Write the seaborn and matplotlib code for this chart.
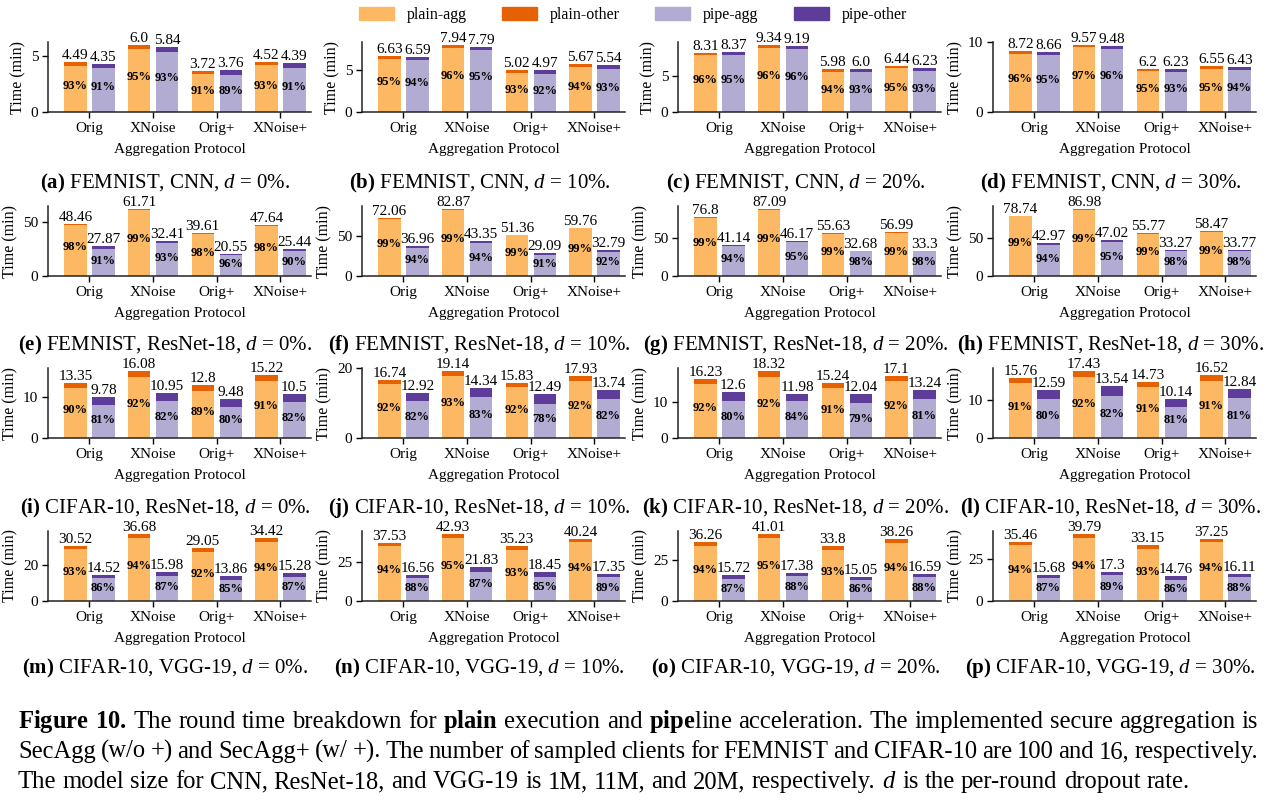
import numpy as np
import pandas as pd
import matplotlib.pyplot as plt
from matplotlib.patches import Patch
import seaborn as sns

# ── DATA ─────────────────────────────────────────────────────
protocols = ['Orig', 'XNoise', 'Orig+', 'XNoise+']
datasets = ['FEMNIST, CNN', 'FEMNIST, ResNet-18', 'CIFAR-10, ResNet-18', 'CIFAR-10, VGG-19']
dropout = ['0%', '10%', '20%', '30%']
letters = 'abcdefghijklmnop'

# round time (min), panels a..p
plain_total = [
    [4.49, 6.0, 3.72, 4.52], [6.63, 7.94, 5.02, 5.67], [8.31, 9.34, 5.98, 6.44], [8.72, 9.57, 6.2, 6.55],
    [48.46, 61.71, 39.61, 47.64], [72.06, 82.87, 51.36, 59.76], [76.8, 87.09, 55.63, 56.99], [78.74, 86.98, 55.77, 58.47],
    [13.35, 16.08, 12.8, 15.22], [16.74, 19.14, 15.83, 17.93], [16.23, 18.32, 15.24, 17.1], [15.76, 17.43, 14.73, 16.52],
    [30.52, 36.68, 29.05, 34.42], [37.53, 42.93, 35.23, 40.24], [36.26, 41.01, 33.8, 38.26], [35.46, 39.79, 33.15, 37.25],
]
pipe_total = [
    [4.35, 5.84, 3.76, 4.39], [6.59, 7.79, 4.97, 5.54], [8.37, 9.19, 6.0, 6.23], [8.66, 9.48, 6.23, 6.43],
    [27.87, 32.41, 20.55, 25.44], [36.96, 43.35, 29.09, 32.79], [41.14, 46.17, 32.68, 33.3], [42.97, 47.02, 33.27, 33.77],
    [9.78, 10.95, 9.48, 10.5], [12.92, 14.34, 12.49, 13.74], [12.6, 11.98, 12.04, 13.24], [12.59, 13.54, 10.14, 12.84],
    [14.52, 15.98, 13.86, 15.28], [16.56, 21.83, 18.45, 17.35], [15.72, 17.38, 15.05, 16.59], [15.68, 17.3, 14.76, 16.11],
]
# share of aggregation time (%)
plain_pct = [
    [93, 95, 91, 93], [95, 96, 93, 94], [96, 96, 94, 95], [96, 97, 95, 95],
    [98, 99, 98, 98], [99, 99, 99, 99], [99, 99, 99, 99], [99, 99, 99, 99],
    [90, 92, 89, 91], [92, 93, 92, 92], [92, 92, 91, 92], [91, 92, 91, 91],
    [93, 94, 92, 94], [94, 95, 93, 94], [94, 95, 93, 94], [94, 94, 93, 94],
]
pipe_pct = [
    [91, 93, 89, 91], [94, 95, 92, 93], [95, 96, 93, 93], [95, 96, 93, 94],
    [91, 93, 96, 90], [94, 94, 91, 92], [94, 95, 98, 98], [94, 95, 98, 98],
    [81, 82, 80, 82], [82, 83, 78, 82], [80, 84, 79, 81], [80, 82, 81, 81],
    [86, 87, 85, 87], [88, 87, 85, 89], [87, 88, 86, 88], [87, 89, 86, 88],
]
yticks = [
    [0, 5], [0, 5], [0, 5], [0, 10],
    [0, 50], [0, 50], [0, 50], [0, 50],
    [0, 10], [0, 20], [0, 10], [0, 10],
    [0, 20], [0, 25], [0, 25], [0, 25],
]

colors_other = {'plain': '#e66101', 'pipe': '#5e3c99'}
colors_agg = {'plain': '#fdb863', 'pipe': '#b2abd2'}

# ── STYLE ────────────────────────────────────────────────────
sns.set_theme(style='ticks', font='serif')
plt.rcParams['font.serif'] = ['Liberation Serif', 'DejaVu Serif']
plt.rcParams['font.family'] = ['Liberation Serif', 'DejaVu Serif']
plt.rcParams['mathtext.fontset'] = 'custom'
plt.rcParams['mathtext.rm'] = 'Liberation Serif'
plt.rcParams['mathtext.it'] = 'Liberation Serif:italic'
plt.rcParams['mathtext.bf'] = 'Liberation Serif:bold'
plt.rcParams['text.color'] = 'black'
plt.rcParams['axes.labelcolor'] = 'black'
plt.rcParams['xtick.color'] = 'black'
plt.rcParams['ytick.color'] = 'black'
serif = ['Liberation Serif', 'DejaVu Serif']

W, H = 1274, 809
fig = plt.figure(figsize=(W / 100, H / 100), dpi=100)

col_left = [48, 362, 678, 993]
row_bottom = [112, 276, 438, 601]
cap_y = [183, 345, 508, 668]
ax_w, ax_h = 263, 70

# ── PANELS ───────────────────────────────────────────────────
for i in range(16):
    r, c = divmod(i, 4)
    ax = fig.add_axes([col_left[c] / W, 1 - row_bottom[r] / H, ax_w / W, ax_h / H])
    df = pd.DataFrame({
        'protocol': protocols * 2,
        'mode': ['plain'] * 4 + ['pipe'] * 4,
        'total': plain_total[i] + pipe_total[i],
        'pct': plain_pct[i] + pipe_pct[i],
    })
    df['agg'] = df['total'] * df['pct'] / 100

    kw = dict(x='protocol', hue='mode', order=protocols, hue_order=['plain', 'pipe'],
              width=0.88, gap=0.2, saturation=1, errorbar=None, legend=False,
              linewidth=0, ax=ax)
    sns.barplot(data=df, y='total', palette=colors_other, **kw)
    sns.barplot(data=df, y='agg', palette=colors_agg, **kw)

    tot_lists = [plain_total[i], pipe_total[i]]
    pct_lists = [plain_pct[i], pipe_pct[i]]
    for k in range(2):
        ax.bar_label(ax.containers[k], labels=[str(v) for v in tot_lists[k]],
                     padding=0, fontsize=11, family=serif)
        for rect, p in zip(ax.containers[k + 2], pct_lists[k]):
            ax.text(rect.get_x() + rect.get_width() / 2, rect.get_height() * 0.56,
                    f'{p}%', ha='center', va='center', fontsize=9,
                    fontweight='bold', family=serif)

    top = max(plain_total[i] + pipe_total[i])
    ax.set_ylim(0, top * 1.05)
    ax.set_yticks(yticks[i])
    ax.set_xlim(-0.65, 3.48)
    ax.set_ylabel('Time (min)', fontsize=11.5, labelpad=3, family=serif)
    ax.set_xlabel('Aggregation Protocol', fontsize=11, labelpad=6, family=serif)
    ax.tick_params(axis='both', length=4, width=1, labelsize=11, pad=3)
    for lab in ax.get_xticklabels() + ax.get_yticklabels():
        lab.set_family(serif)
    for s in ['left', 'bottom']:
        ax.spines[s].set_linewidth(1.1)
        ax.spines[s].set_color('#222222')
    sns.despine(ax=ax)

    fig.text((col_left[c] + ax_w / 2 - 14) / W, 1 - cap_y[r] / H,
             rf'$\mathbf{{({letters[i]})}}$ {datasets[r]}, $d$ = {dropout[c]}.',
             ha='center', va='center', fontsize=15)

# ── LEGEND ───────────────────────────────────────────────────
handles = [Patch(color=colors_agg['plain'], label='plain-agg'),
           Patch(color=colors_other['plain'], label='plain-other'),
           Patch(color=colors_agg['pipe'], label='pipe-agg'),
           Patch(color=colors_other['pipe'], label='pipe-other')]
fig.legend(handles=handles, loc='center', bbox_to_anchor=(633 / W, 1 - 15 / H), ncol=4,
           frameon=False, prop={'family': serif, 'size': 11.5}, handlelength=2.2,
           handleheight=0.9, columnspacing=2.2, handletextpad=0.8)

# ── FIGURE CAPTION (justified) ───────────────────────────────
cap_lines = [
    r'$\mathbf{Figure}$ $\mathbf{10.}$ The round time breakdown for $\mathbf{plain}$ execution and '
    r'$\mathbf{pipe}$line acceleration. The implemented secure aggregation is',
    'SecAgg (w/o +) and SecAgg+ (w/ +). The number of sampled clients for FEMNIST and '
    'CIFAR-10 are 100 and 16, respectively.',
    'The model size for CNN, ResNet-18, and VGG-19 is 1M, 11M, and 20M, respectively. '
    r'$d$ is the per-round dropout rate.',
]
cap_base = [728, 758, 788]
x0, x1 = 18, 1258
renderer = fig.canvas.get_renderer()

# pick a font size so the first line fills the text width with normal spacing
probe = [fig.text(0, 0, w, fontsize=15) for w in cap_lines[0].split(' ')]
probe_w = sum(t.get_window_extent(renderer).width for t in probe)
for t in probe:
    t.remove()
space15 = 15 * 1.389 * 0.25
cap_size = 15 * (x1 - x0) / (probe_w + space15 * (len(probe) - 1))
space = cap_size * 1.389 * 0.25

for n, line in enumerate(cap_lines):
    words = line.split(' ')
    texts = [fig.text(0, 1 - cap_base[n] / H, w, fontsize=cap_size, va='baseline') for w in words]
    widths = [t.get_window_extent(renderer).width for t in texts]
    if n < 2:
        gap = (x1 - x0 - sum(widths)) / (len(words) - 1)
    else:
        gap = space
    x = x0
    for t, w in zip(texts, widths):
        t.set_x(x / W)
        x += w + gap

plt.savefig('out.png', dpi=100)
